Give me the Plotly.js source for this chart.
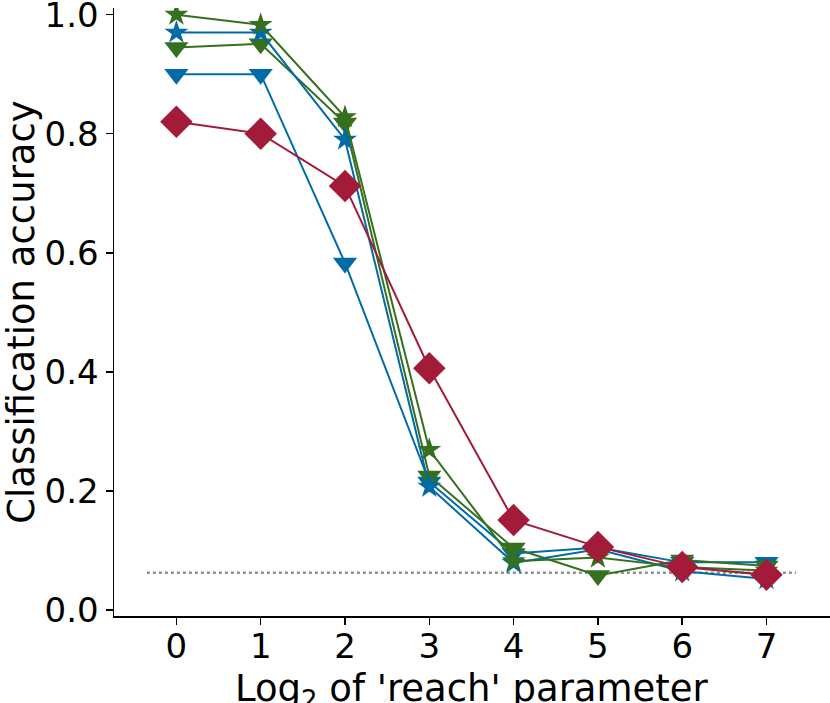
<!DOCTYPE html>
<html>
<head>
<meta charset="utf-8">
<script src="https://cdn.plot.ly/plotly-3.0.1.min.js"></script>
<style>
  html, body { margin: 0; padding: 0; background: #fff; }
  #chart { width: 830px; height: 703px; }
</style>
</head>
<body>
<div id="chart"></div>
<script>
// log2 of the 'reach' parameter
var reach = [0, 1, 2, 3, 4, 5, 6, 7];

// classification accuracy per run
var blueStar  = [0.970, 0.970, 0.790, 0.207, 0.079, 0.102, 0.065, 0.052];
var blueTri   = [0.900, 0.900, 0.583, 0.215, 0.095, 0.105, 0.080, 0.080];
var greenTri  = [0.945, 0.951, 0.818, 0.225, 0.104, 0.058, 0.084, 0.074];
var greenStar = [1.000, 0.983, 0.828, 0.269, 0.082, 0.088, 0.072, 0.066];
var redDiam   = [0.820, 0.800, 0.712, 0.406, 0.151, 0.106, 0.072, 0.059];

// chance level (1 / 16 classes)
var chanceX = [-0.35, 7.35];
var chanceY = [0.0625, 0.0625];

var yTicks = [0.0, 0.2, 0.4, 0.6, 0.8, 1.0];

var BLUE = '#006BA4', GREEN = '#35701F', RED = '#A21C3A';

function series(y, color, symbol, size) {
  return {
    x: reach, y: y,
    type: 'scatter', mode: 'lines+markers',
    line: { color: color, width: 2 },
    marker: { color: color, symbol: symbol, size: size, line: { width: 0 } },
    hoverinfo: 'x+y'
  };
}

var data = [
  {
    x: chanceX, y: chanceY, type: 'scatter', mode: 'lines',
    line: { color: '#909090', width: 2.5, dash: 'dot' }, hoverinfo: 'skip'
  },
  series(blueTri,   BLUE,  'triangle-down', 21),
  series(greenTri,  GREEN, 'triangle-down', 21),
  series(blueStar,  BLUE,  'star', 18),
  series(greenStar, GREEN, 'star', 18),
  series(redDiam,   RED,   'diamond', 25)
];

var tickFont = { family: 'DejaVu Sans', size: 34, color: '#000' };
var titleFont = { family: 'DejaVu Sans', size: 37, color: '#000' };

var layout = {
  width: 830, height: 703,
  margin: { l: 114, r: 0, t: 8, b: 87 },
  paper_bgcolor: '#fff', plot_bgcolor: '#fff',
  showlegend: false,
  font: { family: 'DejaVu Sans', color: '#000' },
  xaxis: {
    range: [-0.74, 7.753],
    tickvals: reach,
    ticktext: reach.map(String),
    ticks: 'outside', ticklen: 7, tickwidth: 1.5, tickcolor: '#000',
    showline: true, linecolor: '#000', linewidth: 1.5,
    showgrid: false, zeroline: false,
    tickfont: tickFont, ticklabeloverflow: 'allow', ticklabelstandoff: -7
  },
  yaxis: {
    range: [-0.0101, 1.0112],
    tickvals: yTicks,
    ticktext: yTicks.map(function (v) { return v.toFixed(1); }),
    ticks: 'outside', ticklen: 7, tickwidth: 1.5, tickcolor: '#000',
    showline: true, linecolor: '#000', linewidth: 1.5,
    showgrid: false, zeroline: false,
    tickfont: tickFont, ticklabeloverflow: 'allow',
    title: { text: 'Classification accuracy', font: titleFont, standoff: 2 }
  },
  // x title sits low, partly past the bottom edge as in the original
  annotations: [{
    text: 'Log<sub>2</sub> of \'reach\' parameter',
    xref: 'paper', yref: 'paper', x: 0.5, y: -0.08,
    xanchor: 'center', yanchor: 'top',
    showarrow: false, font: titleFont
  }]
};

Plotly.newPlot('chart', data, layout, { displayModeBar: false, staticPlot: true });
</script>
</body>
</html>
